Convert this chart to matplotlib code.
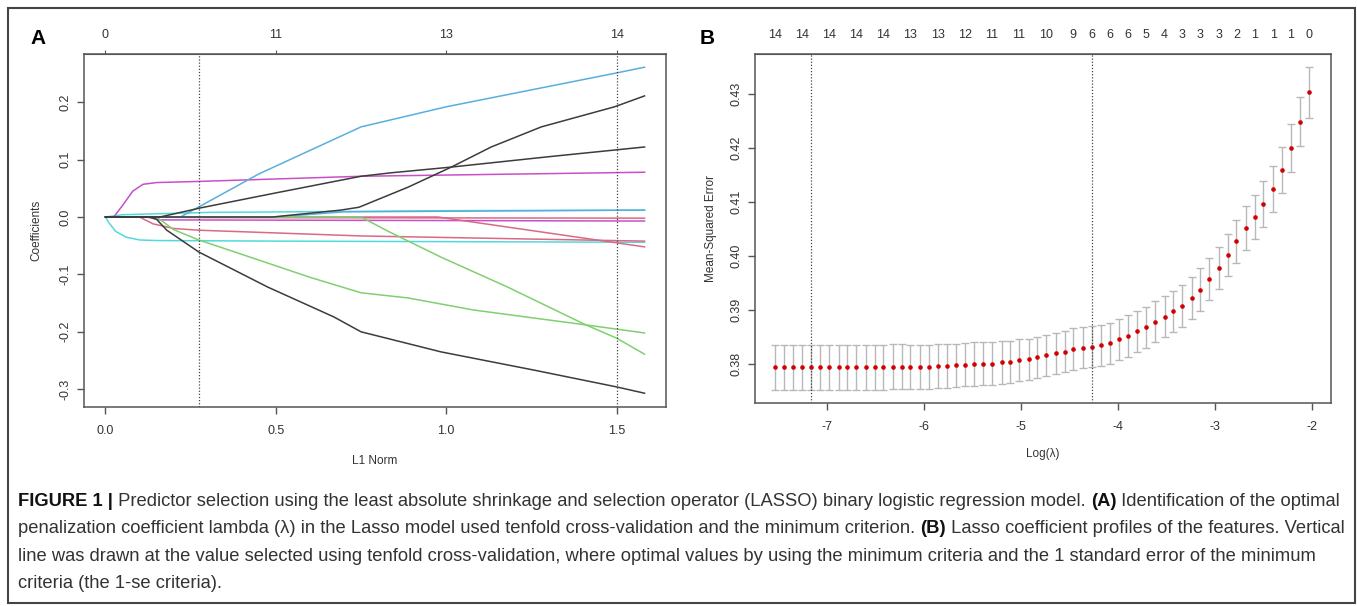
import numpy as np
import matplotlib.pyplot as plt
from matplotlib.patches import Rectangle

plt.rcParams['font.family'] = ['Liberation Sans', 'DejaVu Sans']

W, H = 1357, 606

# ---- Panel A: lasso coefficient paths (L1 norm knots, coefficient)
blue_l1 = [0, 0.22, 0.45, 0.75, 1.0, 1.5, 1.582]
blue_cf = [0, 0, 0.075, 0.157, 0.192, 0.251, 0.261]
black1_l1 = [0, 0.49, 0.69, 0.744, 0.888, 1.015, 1.132, 1.279, 1.494, 1.582]
black1_cf = [0, 0, 0.012, 0.017, 0.052, 0.087, 0.122, 0.157, 0.192, 0.211]
black2_l1 = [0, 0.16, 0.28, 0.5, 0.75, 0.838, 1.015, 1.3, 1.582]
black2_cf = [0, 0, 0.016, 0.042, 0.071, 0.077, 0.087, 0.105, 0.122]
mag1_l1 = [0, 0.024, 0.05, 0.08, 0.11, 0.15, 0.274, 0.75, 1.582]
mag1_cf = [0, 0, 0.02, 0.045, 0.057, 0.06, 0.062, 0.071, 0.078]
cyan1_l1 = [0, 0.05, 0.3, 1.0, 1.582]
cyan1_cf = [0, 0.004, 0.008, 0.011, 0.012]
blue2_l1 = [0, 0.5, 0.7, 1.582]
blue2_cf = [0, 0, 0.009, 0.012]
pink1_l1 = [0, 0.12, 0.3, 1.582]
pink1_cf = [0, 0, -0.001, -0.002]
mag2_l1 = [0, 0.12, 0.16, 1.582]
mag2_cf = [0, 0, -0.005, -0.007]
pinkA_l1 = [0, 0.1, 0.14, 0.2, 0.274, 0.75, 1.582]
pinkA_cf = [0, 0, -0.012, -0.02, -0.023, -0.033, -0.042]
redB_l1 = [0, 0.976, 1.5, 1.582]
redB_cf = [0, 0, -0.045, -0.052]
cyan2_l1 = [0, 0.01, 0.03, 0.06, 0.1, 0.15, 0.5, 1.582]
cyan2_cf = [0, -0.01, -0.025, -0.035, -0.04, -0.041, -0.042, -0.044]
green1_l1 = [0, 0.15, 0.2, 0.274, 0.45, 0.6, 0.75, 0.888, 1.08, 1.41, 1.582]
green1_cf = [0, 0, -0.022, -0.04, -0.075, -0.105, -0.132, -0.141, -0.162, -0.188, -0.202]
green2_l1 = [0, 0.75, 0.83, 0.985, 1.18, 1.41, 1.5, 1.582]
green2_cf = [0, 0, -0.025, -0.07, -0.122, -0.188, -0.211, -0.239]
black3_l1 = [0, 0.13, 0.15, 0.18, 0.274, 0.476, 0.67, 0.75, 0.985, 1.26, 1.5, 1.582]
black3_cf = [0, 0, -0.004, -0.023, -0.061, -0.122, -0.174, -0.2, -0.235, -0.267, -0.296, -0.307]

a_top_at = [0, 0.5, 1.0, 1.5]
a_top_labels = ['0', '11', '13', '14']
a_vlines = [0.274, 1.5]

# ---- Panel B: cross-validation curve
log_lambda = [-7.54, -7.44, -7.35, -7.26, -7.16, -7.07, -6.98, -6.88, -6.79, -6.70,
              -6.60, -6.51, -6.42, -6.32, -6.23, -6.14, -6.04, -5.95, -5.86, -5.76,
              -5.67, -5.58, -5.48, -5.39, -5.30, -5.20, -5.11, -5.02, -4.92, -4.83,
              -4.74, -4.64, -4.55, -4.46, -4.36, -4.27, -4.18, -4.08, -3.99, -3.90,
              -3.80, -3.71, -3.62, -3.52, -3.43, -3.34, -3.24, -3.15, -3.06, -2.96,
              -2.87, -2.78, -2.68, -2.59, -2.50, -2.40, -2.31, -2.22, -2.12, -2.03]
mse = [0.3794, 0.3794, 0.3794, 0.3794, 0.3794, 0.3794, 0.3794, 0.3794, 0.3794, 0.3794,
       0.3794, 0.3794, 0.3794, 0.3795, 0.3795, 0.3795, 0.3795, 0.3795, 0.3796, 0.3796,
       0.3798, 0.3799, 0.3800, 0.3801, 0.3801, 0.3803, 0.3804, 0.3807, 0.3809, 0.3813,
       0.3816, 0.3820, 0.3823, 0.3828, 0.3830, 0.3832, 0.3835, 0.3839, 0.3846, 0.3852,
       0.3861, 0.3868, 0.3878, 0.3888, 0.3898, 0.3908, 0.3922, 0.3938, 0.3957, 0.3978,
       0.4002, 0.4027, 0.4052, 0.4072, 0.4096, 0.4124, 0.4159, 0.4200, 0.4249, 0.4303]
mse_se = [0.0042, 0.0042, 0.0042, 0.0042, 0.0042, 0.0042, 0.0042, 0.0042, 0.0042, 0.0042,
          0.0042, 0.0042, 0.0042, 0.0042, 0.0042, 0.0041, 0.0041, 0.0041, 0.0041, 0.0041,
          0.0040, 0.0040, 0.0040, 0.0040, 0.0039, 0.0039, 0.0039, 0.0039, 0.0038, 0.0038,
          0.0038, 0.0038, 0.0038, 0.0038, 0.0038, 0.0038, 0.0038, 0.0038, 0.0038, 0.0038,
          0.0038, 0.0038, 0.0038, 0.0038, 0.0038, 0.0039, 0.0039, 0.0039, 0.0039, 0.0039,
          0.0039, 0.0040, 0.0040, 0.0041, 0.0042, 0.0043, 0.0043, 0.0045, 0.0046, 0.0047]
b_top_idx = [0, 3, 6, 9, 12, 15, 18, 21, 24, 27, 30, 33, 35, 37, 39, 41, 43, 45, 47,
             49, 51, 53, 55, 57, 59]
b_top_labels = ['14', '14', '14', '14', '14', '13', '13', '12', '11', '11', '10', '9',
                '6', '6', '6', '5', '4', '3', '3', '3', '2', '1', '1', '1', '0']
b_vlines = [-7.16, -4.27]

caption = [
    [("FIGURE 1 |", True), (" Predictor selection using the least absolute shrinkage and selection "
     "operator (LASSO) binary logistic regression model. ", False), ("(A)", True),
     (" Identification of the optimal", False)],
    [("penalization coefficient lambda (\u03bb) in the Lasso model used tenfold cross-validation "
      "and the minimum criterion. ", False), ("(B)", True),
     (" Lasso coefficient profiles of the features. Vertical", False)],
    [("line was drawn at the value selected using tenfold cross-validation, where optimal values "
      "by using the minimum criteria and the 1 standard error of the minimum", False)],
    [("criteria (the 1-se criteria).", False)],
]

# colours (R 4 palette, a bit washed out as in the figure)
c_black = '#3c3c3c'
c_red = '#da6a84'
c_green = '#7fd06f'
c_blue = '#5aaede'
c_cyan = '#52d9dd'
c_mag = '#c94fc8'
axc = '#555555'
txtc = '#333333'

fig = plt.figure(figsize=(W / 100, H / 100), dpi=100)
fig.patches.append(Rectangle((8 / W, 1 - 603 / H), 1347 / W, 595 / H, transform=fig.transFigure,
                             fill=False, ec='#444444', lw=1.5))


def style(ax):
    for s in ax.spines.values():
        s.set_color(axc)
        s.set_linewidth(1.1)
    ax.tick_params(direction='out', length=5, width=1, color=axc, labelcolor=txtc, labelsize=9)
    ax.tick_params(axis='x', pad=8)
    ax.tick_params(axis='y', pad=4)


# ---------------- A
axA = fig.add_axes([84 / W, 1 - 407 / H, 582 / W, 353 / H])
paths = [(cyan2_l1, cyan2_cf, c_cyan), (pink1_l1, pink1_cf, c_red), (mag2_l1, mag2_cf, c_mag),
         (pinkA_l1, pinkA_cf, c_red), (redB_l1, redB_cf, c_red), (cyan1_l1, cyan1_cf, c_cyan),
         (blue2_l1, blue2_cf, c_blue), (mag1_l1, mag1_cf, c_mag), (green1_l1, green1_cf, c_green),
         (green2_l1, green2_cf, c_green), (blue_l1, blue_cf, c_blue), (black2_l1, black2_cf, c_black),
         (black1_l1, black1_cf, c_black), (black3_l1, black3_cf, c_black)]
for xs, ys, c in paths:
    axA.plot(xs, ys, color=c, lw=1.1)
for v in a_vlines:
    axA.axvline(v, color='#444444', lw=0.9, ls=(0, (1, 1.5)))
axA.set_xlim(-0.063, 1.645)
axA.set_ylim(-0.331, 0.284)
axA.set_xticks([0, 0.5, 1.0, 1.5], ['0.0', '0.5', '1.0', '1.5'])
axA.set_yticks([-0.3, -0.2, -0.1, 0.0, 0.1, 0.2], ['-0.3', '-0.2', '-0.1', '0.0', '0.1', '0.2'],
               rotation=90, va='center')
style(axA)
axA.set_xlabel('L1 Norm', fontsize=8.5, color=txtc, labelpad=13)
axA.set_ylabel('Coefficients', fontsize=8.5, color=txtc, labelpad=12)
topA = axA.secondary_xaxis('top')
topA.set_xticks(a_top_at, a_top_labels)
topA.tick_params(direction='out', length=3, color=axc, labelcolor=txtc, labelsize=9, pad=6.5)
topA.spines['top'].set_color(axc)
fig.text(30 / W, 1 - 38 / H, 'A', fontsize=15, fontweight='bold', va='center', ha='left')

# ---------------- B
axB = fig.add_axes([755 / W, 1 - 403 / H, 576 / W, 349 / H])
axB.errorbar(log_lambda, mse, yerr=mse_se, fmt='none', ecolor='#b8b8b8', elinewidth=1,
             capsize=3.2, capthick=1)
axB.plot(log_lambda, mse, 'o', color='#d40000', ms=3.3, mec='none')
for v in b_vlines:
    axB.axvline(v, color='#444444', lw=0.9, ls=(0, (1, 1.5)))
axB.set_xlim(-7.742, -1.804)
axB.set_ylim(0.3728, 0.4374)
axB.set_xticks([-7, -6, -5, -4, -3, -2], ['-7', '-6', '-5', '-4', '-3', '-2'])
axB.set_yticks([0.38, 0.39, 0.40, 0.41, 0.42, 0.43],
               ['0.38', '0.39', '0.40', '0.41', '0.42', '0.43'], rotation=90, va='center')
style(axB)
axB.set_xlabel('Log(\u03bb)', fontsize=8.5, color=txtc, labelpad=10.5)
axB.set_ylabel('Mean-Squared Error', fontsize=8.5, color=txtc, labelpad=10)
topB = axB.secondary_xaxis('top')
topB.set_xticks([log_lambda[i] for i in b_top_idx], b_top_labels)
topB.tick_params(length=0, labelcolor=txtc, labelsize=9, pad=9.7)
topB.spines['top'].set_color(axc)
fig.text(700 / W, 1 - 38 / H, 'B', fontsize=15, fontweight='bold', va='center', ha='left')

# ---------------- caption
renderer = fig.canvas.get_renderer()
cap_size = 12.0
probe = fig.text(0, 0, ''.join(t for t, b in caption[0]), fontsize=cap_size)
scale = (1340 - 18) / probe.get_window_extent(renderer).width
probe.remove()
cap_size *= scale
baselines = [506, 533, 561, 588]
for parts, yb in zip(caption, baselines):
    x = 18
    for txt, bold in parts:
        t = fig.text(x / W, 1 - yb / H, txt, fontsize=cap_size, va='baseline', ha='left',
                     fontweight='bold' if bold else 'normal', color='#111111' if bold else txtc)
        x += t.get_window_extent(renderer).width

fig.savefig('out.png', dpi=100)
